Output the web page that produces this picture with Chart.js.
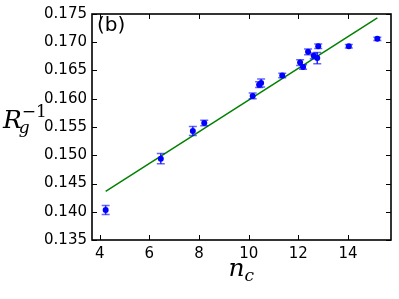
<!DOCTYPE html>
<html>
<head>
<meta charset="utf-8">
<script src="https://cdn.jsdelivr.net/npm/chart.js@4/dist/chart.umd.min.js"></script>
<style>
html,body{margin:0;padding:0;background:#fff;}
#wrap{width:399px;height:299px;}
</style>
</head>
<body>
<div id="wrap"><canvas id="c" width="399" height="299"></canvas></div>
<script>
// Data
const nc   = [4.24, 6.46, 7.75, 8.21, 10.16, 10.42, 10.50, 11.35, 12.07, 12.19, 12.39, 12.62, 12.76, 12.80, 14.03, 15.18];
const rgInv = [0.1403, 0.1494, 0.1543, 0.1557, 0.1605, 0.1625, 0.1628, 0.1641, 0.1664, 0.1656, 0.1683, 0.1676, 0.1672, 0.1693, 0.1693, 0.1706];
const rgErr = [0.0008, 0.0009, 0.0008, 0.0005, 0.0005, 0.0005, 0.0007, 0.0004, 0.0005, 0.0004, 0.0005, 0.0005, 0.0010, 0.0004, 0.0003, 0.0003];
const fitX = [4.24, 15.18];
const fitY = [0.1436, 0.1743];
const xTicks = [4, 6, 8, 10, 12, 14];
const yTicks = [0.135, 0.140, 0.145, 0.150, 0.155, 0.160, 0.165, 0.170, 0.175];
const panelLabel = "(b)";

const pts = nc.map((x, i) => ({x: x, y: rgInv[i], e: rgErr[i]}));
const fitPts = fitX.map((x, i) => ({x: x, y: fitY[i]}));

const errorBars = {
  id: 'errorBars',
  afterDatasetsDraw(chart) {
    const ctx = chart.ctx, xs = chart.scales.x, ys = chart.scales.y;
    ctx.save();
    ctx.lineWidth = 1.5;
    pts.forEach(p => {
      const px = xs.getPixelForValue(p.x);
      const y1 = ys.getPixelForValue(p.y - p.e), y2 = ys.getPixelForValue(p.y + p.e);
      ctx.strokeStyle = 'rgba(0,0,255,0.85)';
      ctx.beginPath();
      ctx.moveTo(px, y1); ctx.lineTo(px, y2);
      ctx.stroke();
      ctx.strokeStyle = 'rgba(0,0,255,0.6)';
      ctx.beginPath();
      ctx.moveTo(px - 4, y1); ctx.lineTo(px + 4, y1);
      ctx.moveTo(px - 4, y2); ctx.lineTo(px + 4, y2);
      ctx.stroke();
    });
    ctx.fillStyle = '#0000ff';
    pts.forEach(p => {
      const px = xs.getPixelForValue(p.x), py = ys.getPixelForValue(p.y);
      ctx.beginPath(); ctx.arc(px, py, 3, 0, Math.PI * 2); ctx.fill();
    });
    ctx.restore();
  }
};

const frame = {
  id: 'frame',
  afterDraw(chart) {
    const ctx = chart.ctx, a = chart.chartArea, xs = chart.scales.x, ys = chart.scales.y;
    ctx.save();
    ctx.strokeStyle = '#000';
    ctx.lineWidth = 1.6;
    ctx.strokeRect(a.left, a.top, a.right - a.left, a.bottom - a.top);
    ctx.lineWidth = 1;
    ctx.beginPath();
    xTicks.forEach(v => {
      const px = Math.round(xs.getPixelForValue(v)) + 0.5;
      ctx.moveTo(px, a.bottom); ctx.lineTo(px, a.bottom - 5);
      ctx.moveTo(px, a.top); ctx.lineTo(px, a.top + 5);
    });
    yTicks.forEach(v => {
      const py = Math.round(ys.getPixelForValue(v)) + 0.5;
      ctx.moveTo(a.left, py); ctx.lineTo(a.left + 5, py);
      ctx.moveTo(a.right, py); ctx.lineTo(a.right - 5, py);
    });
    ctx.stroke();
    // panel label
    ctx.fillStyle = '#000';
    ctx.font = '20px "DejaVu Sans"';
    ctx.textBaseline = 'alphabetic';
    ctx.textAlign = 'left';
    ctx.fillText(panelLabel, a.left + 5, 31);
    // x axis label n_c
    const serif = '"DejaVu Serif"';
    ctx.font = 'italic 25px ' + serif;
    const cx = (a.left + a.right) / 2;
    const nW = ctx.measureText('n').width;
    ctx.fillText('n', cx - nW / 2 - 5, 276);
    ctx.font = 'italic 17px ' + serif;
    ctx.fillText('c', cx + nW / 2 - 5, 281);
    // y axis label R_g^{-1}
    ctx.font = 'italic 25px ' + serif;
    ctx.fillText('R', 3, 128);
    const rW = ctx.measureText('R').width;
    ctx.font = 'italic 17px ' + serif;
    ctx.fillText('g', 3 + rW - 3, 133);
    ctx.font = '17px ' + serif;
    ctx.fillText('\u22121', 3 + rW, 117);
    ctx.restore();
  }
};

new Chart(document.getElementById('c'), {
  type: 'scatter',
  data: {
    datasets: [
      {
        type: 'line',
        data: fitPts,
        borderColor: '#008000',
        borderWidth: 1.5,
        pointRadius: 0,
        fill: false,
        showLine: true
      },
      {
        data: pts,
        pointRadius: 0,
        backgroundColor: '#0000ff',
        borderColor: '#0000ff',
        showLine: false
      }
    ]
  },
  options: {
    responsive: false,
    animation: false,
    devicePixelRatio: 1,
    layout: {padding: {left: 0, right: 8, top: 9, bottom: 0}},
    plugins: {legend: {display: false}, tooltip: {enabled: false}},
    scales: {
      x: {
        type: 'linear',
        min: 3.69, max: 15.73,
        afterBuildTicks(scale) { scale.ticks = xTicks.map(v => ({value: v})); },
        afterFit(scale) { scale.height = 59; },
        grid: {display: false, drawTicks: false},
        border: {display: false},
        ticks: {
          padding: 5,
          color: '#000',
          font: {family: '"DejaVu Sans"', size: 15},
          callback: v => String(v),
          maxRotation: 0
        }
      },
      y: {
        type: 'linear',
        min: 0.135, max: 0.175,
        afterBuildTicks(scale) { scale.ticks = yTicks.map(v => ({value: v})); },
        afterFit(scale) { scale.width = 92; },
        grid: {display: false, drawTicks: false},
        border: {display: false},
        ticks: {
          padding: 5,
          color: '#000',
          font: {family: '"DejaVu Sans"', size: 15},
          callback: v => Number(v).toFixed(3)
        }
      }
    }
  },
  plugins: [errorBars, frame]
});
</script>
</body>
</html>
